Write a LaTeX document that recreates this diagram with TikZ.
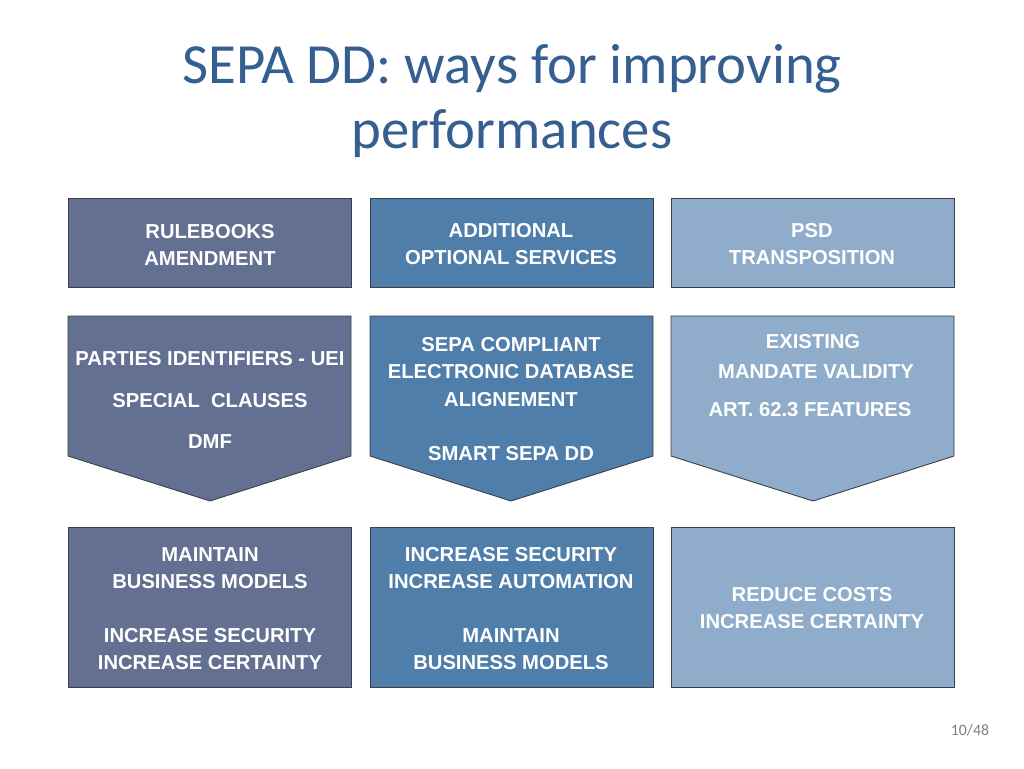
\documentclass[tikz,border=0pt]{standalone}
\usepackage{fontspec}
\setmainfont{Carlito}
\newfontfamily\boxfont{Liberation Sans}
\usetikzlibrary{positioning}
\definecolor{sepaSlate}{HTML}{647091}
\definecolor{sepaBlue}{HTML}{4F7EAA}
\definecolor{sepaLight}{HTML}{8FACCB}
\definecolor{sepaTitle}{HTML}{355E91}
\definecolor{sepaEdge}{HTML}{3A3F4A}
\tikzset{
  boxtext/.style={text=white,font=\boxfont\bfseries\fontsize{11.5}{15.4}\selectfont,align=center},
  panel/.style={draw=sepaEdge,line width=0.5pt},
}
\begin{document}
\begin{tikzpicture}[x=0.02cm,y=-0.02cm]
    \fill[white] (0,0) rectangle (1024,768);
    \useasboundingbox (0,0) rectangle (1024,768);
    % title
    \node[sepaTitle,font=\fontsize{32.3}{37}\selectfont,align=center] (title) at (512,101)
      {SEPA DD: ways for improving\\performances};
    % first row
    \draw[panel,fill=sepaSlate] (68,198) rectangle (351,287);
    \draw[panel,fill=sepaBlue] (370,198) rectangle (653,287);
    \draw[panel,fill=sepaLight] (671,198) rectangle (954,287);
    \node[boxtext] (rules) at (210,244.5) {RULEBOOKS\\AMENDMENT};
    \node[boxtext] (extra) at (511,244.5) {ADDITIONAL\\OPTIONAL SERVICES};
    \node[boxtext] (psd) at (812,244.5) {PSD\\TRANSPOSITION};
    % second row, arrows
    \draw[panel,fill=sepaSlate] (68,316) -- (351,316) -- (351,456) -- (210,501) -- (68,456) -- cycle;
    \draw[panel,fill=sepaBlue] (370,316) -- (653,316) -- (653,456) -- (511,501) -- (370,456) -- cycle;
    \draw[panel,fill=sepaLight] (671,316) -- (954,316) -- (954,456) -- (813,501) -- (671,456) -- cycle;
    \node[boxtext] (uei) at (210,359) {PARTIES IDENTIFIERS - UEI};
    \node[boxtext] (clauses) at (210,401) {SPECIAL\ \ CLAUSES};
    \node[boxtext] (dmf) at (210,442) {DMF};
    \node[boxtext] (compliant) at (511,372) {SEPA COMPLIANT\\ELECTRONIC DATABASE\\ALIGNEMENT};
    \node[boxtext] (smart) at (511,454) {SMART SEPA DD};
    \node[boxtext] (existing) at (813,342) {EXISTING};
    \node[boxtext] (validity) at (816,372) {MANDATE VALIDITY};
    \node[boxtext] (art) at (810,410) {ART. 62.3 FEATURES};
    % third row
    \draw[panel,fill=sepaSlate] (68,527) rectangle (351,687);
    \draw[panel,fill=sepaBlue] (370,527) rectangle (653,687);
    \draw[panel,fill=sepaLight] (671,527) rectangle (954,687);
    \node[boxtext] (keep) at (210,608.5)
      {MAINTAIN\\BUSINESS MODELS\\[15.4pt]INCREASE SECURITY\\INCREASE CERTAINTY};
    \node[boxtext] (auto) at (511,608.5)
      {INCREASE SECURITY\\INCREASE AUTOMATION\\[15.4pt]MAINTAIN\\BUSINESS MODELS};
    \node[boxtext] (costs) at (812,608.5) {REDUCE COSTS\\INCREASE CERTAINTY};
    % page number
    \node[gray,font=\fontsize{9}{11}\selectfont] (page) at (970,730) {10/48};
  \end{tikzpicture}
\end{document}
